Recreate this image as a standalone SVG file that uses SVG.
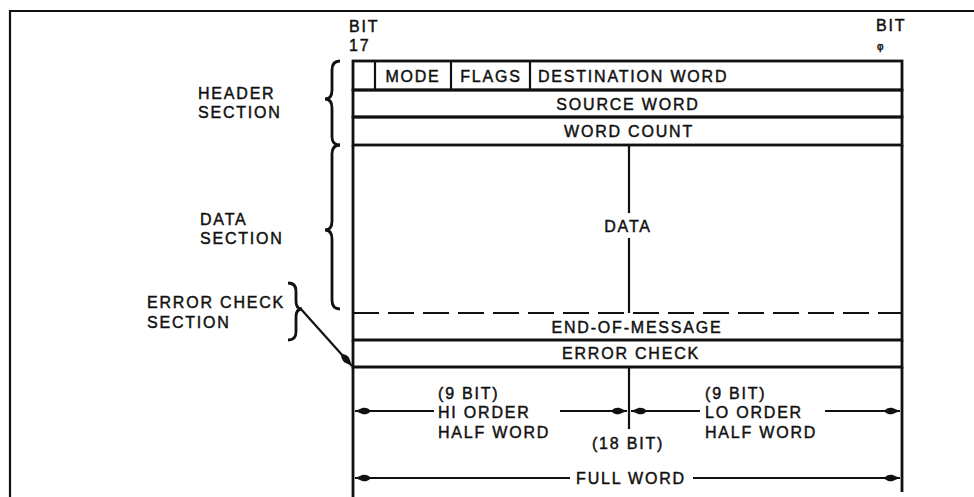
<svg xmlns="http://www.w3.org/2000/svg" width="974" height="497" viewBox="0 0 974 497">
<style>
text{font-family:"Liberation Sans",Arial,sans-serif;font-size:16px;fill:#111;stroke:#111;stroke-width:0.45px;letter-spacing:1.8px}
.c{text-anchor:middle}
.ln{stroke:#111;fill:none}
</style>
<defs>
<marker id="ah" viewBox="0 0 16 9" refX="16" refY="4.5" markerWidth="16" markerHeight="9" markerUnits="userSpaceOnUse" orient="auto">
<path d="M0,4.5 Q3,0.8 8,1.2 L16,4.5 L8,7.8 Q3,8.2 0,4.5 Z" fill="#111"/>
</marker>
</defs>
<rect x="0" y="0" width="974" height="497" fill="#fff"/>
<g id="frame">
<path class="ln" stroke-width="2.2" d="M10,497 L10,11 L974,11"/>
</g>
<g id="bit-labels">
<text x="349" y="32">BIT</text>
<text x="349" y="51">17</text>
<text x="876" y="31">BIT</text>
<text x="877" y="50" style="font-size:10px;letter-spacing:0">φ</text>
</g>
<g id="header-row1">
<rect class="ln" stroke-width="2.8" x="353" y="61" width="549" height="29"/>
<line class="ln" stroke-width="2.2" x1="375" y1="62" x2="375" y2="89"/>
<line class="ln" stroke-width="2.2" x1="451" y1="62" x2="451" y2="89"/>
<line class="ln" stroke-width="2.2" x1="530" y1="62" x2="530" y2="89"/>
<text x="413" y="82" class="c">MODE</text>
<text x="491" y="82" class="c">FLAGS</text>
<text x="538" y="82">DESTINATION WORD</text>
</g>
<g id="source-word">
<rect class="ln" stroke-width="2.8" x="353" y="90" width="549" height="27"/>
<text x="628" y="110" class="c">SOURCE WORD</text>
</g>
<g id="word-count">
<rect class="ln" stroke-width="2.8" x="353" y="117" width="549" height="28"/>
<text x="629" y="137" class="c">WORD COUNT</text>
</g>
<g id="data">
<path class="ln" stroke-width="2.8" d="M353,145 L353,313 M902,145 L902,313"/>
<path class="ln" stroke-width="2.2" d="M629,145 L629,213 M629,238 L629,313"/>
<line class="ln" stroke-width="2.2" x1="353" y1="313" x2="902" y2="313" stroke-dasharray="26 9"/>
<text x="628" y="232" class="c">DATA</text>
</g>
<g id="end-of-message">
<path class="ln" stroke-width="2.8" d="M353,313 L353,340 L902,340 L902,313"/>
<text x="637" y="333" class="c">END-OF-MESSAGE</text>
</g>
<g id="error-check">
<path class="ln" stroke-width="2.8" d="M353,340 L353,367 L902,367 L902,340"/>
<text x="631" y="359" class="c">ERROR CHECK</text>
</g>
<g id="word-format">
<path class="ln" stroke-width="2.8" d="M353,367 L353,497 M902,367 L902,492"/>
<line class="ln" stroke-width="2.2" x1="629" y1="367" x2="629" y2="429"/>
<text x="438" y="399">(9 BIT)</text>
<text x="438" y="418">HI ORDER</text>
<text x="438" y="438">HALF WORD</text>
<text x="705" y="399">(9 BIT)</text>
<text x="705" y="418">LO ORDER</text>
<text x="705" y="438">HALF WORD</text>
<text x="628" y="449" class="c">(18 BIT)</text>
<text x="631" y="484" class="c">FULL WORD</text>
</g>
<g id="section-labels">
<text x="198" y="99">HEADER</text>
<text x="198" y="118">SECTION</text>
<text x="200" y="225">DATA</text>
<text x="200" y="244">SECTION</text>
<text x="147" y="308">ERROR CHECK</text>
<text x="147" y="328">SECTION</text>
</g>
<g id="connectors">
<path class="ln" stroke-width="2.8" d="M340,61 Q332,61 332,70 L332,90 Q332,99 325,99 Q332,99 332,108 L332,137 Q332,145 340,145"/>
<path class="ln" stroke-width="2.8" d="M340,145 Q332,145 332,154 L332,221 Q332,230 325,230 Q332,230 332,239 L332,300 Q332,309 340,309"/>
<path class="ln" stroke-width="2.8" d="M288,283 Q296,283 296,291 L296,301 Q296,309 302,309 Q296,309 296,317 L296,332 Q296,340 288,340"/>
<line class="ln" stroke-width="2.2" x1="300" y1="308" x2="352" y2="366" marker-end="url(#ah)"/>
<line class="ln" stroke-width="2.2" x1="434" y1="411" x2="355" y2="411" marker-end="url(#ah)"/>
<line class="ln" stroke-width="2.2" x1="560" y1="411" x2="627" y2="411" marker-end="url(#ah)"/>
<line class="ln" stroke-width="2.2" x1="700" y1="411" x2="631" y2="411" marker-end="url(#ah)"/>
<line class="ln" stroke-width="2.2" x1="825" y1="411" x2="900" y2="411" marker-end="url(#ah)"/>
<line class="ln" stroke-width="2.2" x1="570" y1="478" x2="355" y2="478" marker-end="url(#ah)"/>
<line class="ln" stroke-width="2.2" x1="693" y1="478" x2="900" y2="478" marker-end="url(#ah)"/>
</g>
</svg>
